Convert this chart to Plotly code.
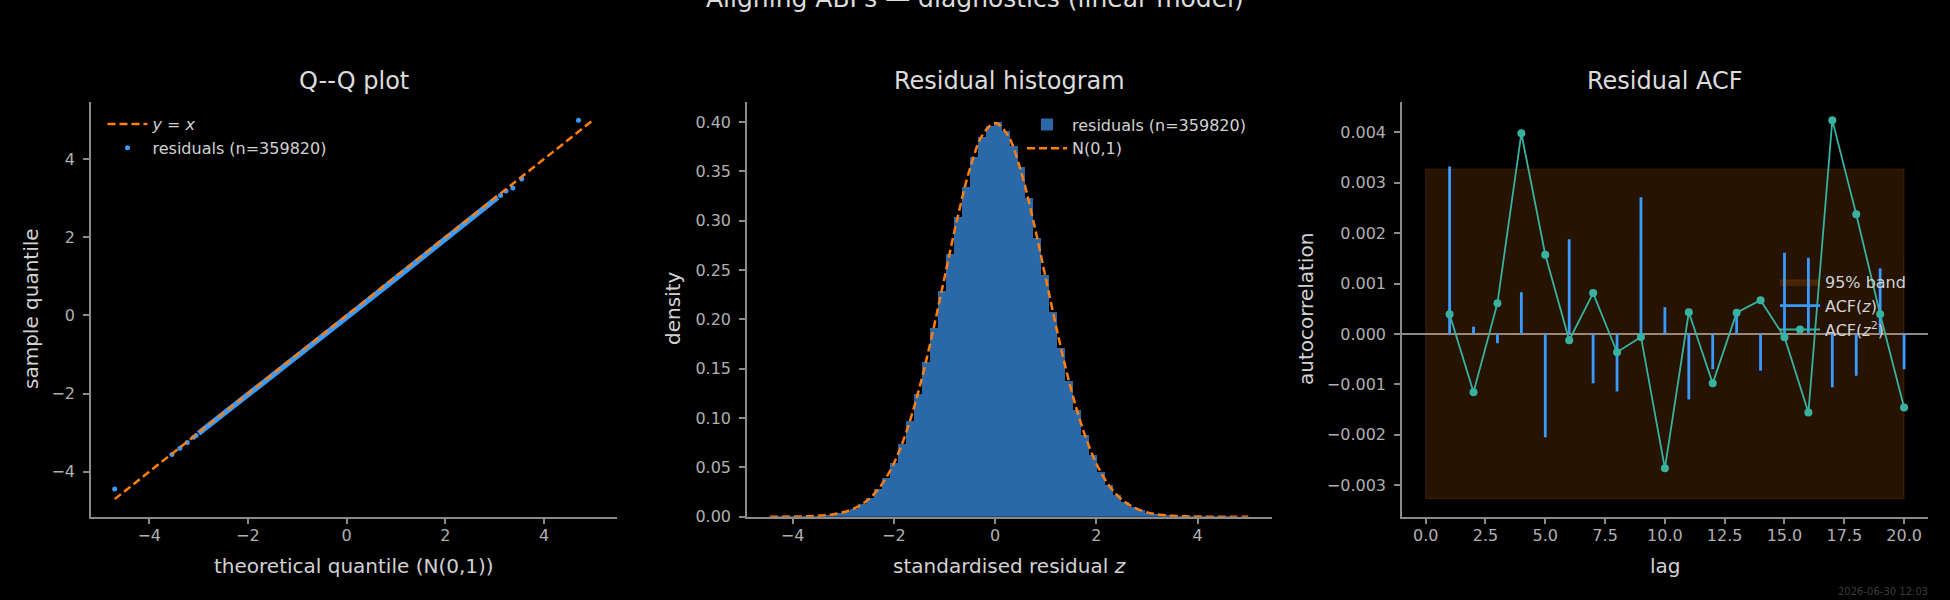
import plotly.graph_objects as go

W, H = 1950, 600
FONT = "DejaVu Sans"

# ---------------- data ----------------
# Q-Q plot: dense central part of sorted residuals vs N(0,1) quantiles
qq_theo = [-3.0, -2.5, -2.0, -1.5, -1.0, -0.5, 0.0, 0.5, 1.0, 1.5, 2.0, 2.5, 3.0, 3.06]
qq_samp = [-3.02, -2.53, -2.04, -1.55, -1.05, -0.55, -0.05, 0.45, 0.95, 1.45, 1.96, 2.47, 2.97, 3.02]
# sparse tails
qq_tail_theo = [-4.70, -3.54, -3.38, -3.23, -3.10, -3.05, 3.12, 3.23, 3.37, 3.55, 4.70]
qq_tail_samp = [-4.44, -3.56, -3.40, -3.25, -3.12, -3.07, 3.07, 3.18, 3.26, 3.49, 4.99]
ref_line = [-4.70, 4.97]

# Histogram (density), 60 equal bins
hist_start = -4.43
hist_width = 0.1572
hist_density = [0.00003, 0.00006, 0.00012, 0.00021, 0.0004, 0.0007, 0.0012, 0.0020, 0.0033, 0.0053,
                0.0083, 0.0127, 0.0190, 0.0277, 0.0392, 0.0544, 0.0735, 0.0969, 0.1246, 0.1564,
                0.1915, 0.2288, 0.2667, 0.3033, 0.3340, 0.3643, 0.3847, 0.3964, 0.4000, 0.3909,
                0.3760, 0.3540, 0.3230, 0.2828, 0.2452, 0.2075, 0.1712, 0.1379, 0.1083, 0.0831,
                0.0621, 0.0453, 0.0323, 0.0224, 0.0152, 0.0100, 0.0065, 0.0041, 0.0025, 0.0015,
                0.0009, 0.0005, 0.0003, 0.00015, 0.00008, 0.00004, 0.00002, 0.00001, 0.000005, 0.000002]

# N(0,1) reference curve
norm_x = [-4.45, -4.25, -4.0, -3.75, -3.5, -3.25, -3.0, -2.75, -2.5, -2.25, -2.0, -1.75, -1.5, -1.25,
          -1.0, -0.75, -0.5, -0.25, 0.0, 0.25, 0.5, 0.75, 1.0, 1.25, 1.5, 1.75, 2.0, 2.25, 2.5, 2.75,
          3.0, 3.25, 3.5, 3.75, 4.0, 4.25, 4.5, 4.75, 5.0]
norm_pdf = [0.00002, 0.00005, 0.00013, 0.00035, 0.00087, 0.00203, 0.00443, 0.00909, 0.01753, 0.03174,
            0.05399, 0.08628, 0.12952, 0.18265, 0.24197, 0.30114, 0.35207, 0.38667, 0.39894, 0.38667,
            0.35207, 0.30114, 0.24197, 0.18265, 0.12952, 0.08628, 0.05399, 0.03174, 0.01753, 0.00909,
            0.00443, 0.00203, 0.00087, 0.00035, 0.00013, 0.00005, 0.000016, 0.000005, 0.0000015]

# ACF
lags = list(range(1, 21))
acf_z = [0.00332, 0.000145, -0.000185, 0.000827, -0.00205, 0.00188, -0.00098, -0.00114, 0.00271, 0.00053,
         -0.00130, -0.00070, 0.00040, -0.00073, 0.00161, 0.00151, -0.00106, -0.00083, 0.00130, -0.00070]
acf_z2 = [0.00039, -0.001157, 0.00061, 0.00398, 0.00157, -0.000126, 0.00081, -0.000364, -0.00006, -0.002665,
          0.00043, -0.00098, 0.00042, 0.00067, -0.000066, -0.00156, 0.00424, 0.002375, 0.00039, -0.00146]
band_half = 0.003268
band_lags = [0, 20]

# ---------------- styling ----------------
SPINE = "#8a8a8a"
TICKC = "#b0b0b0"
LABC = "#d2d2d2"
TITC = "#dcdcdc"
BLUE = "#3a9bff"
HISTBLUE = "#2a68a8"
ORANGE = "#ff7f0e"
TEAL = "#38b2a0"

def px_x(p):
    return p / W

def px_y(p):
    return 1 - p / H

Y0, Y1 = px_y(516.7), px_y(102)
DOM = [(91, 617), (747, 1272), (1402, 1928)]

fig = go.Figure()

# ---- panel 1 ----
fig.add_trace(go.Scatter(x=qq_theo, y=qq_samp, mode="lines", line=dict(color=BLUE, width=5.5),
                         showlegend=False, xaxis="x", yaxis="y", hoverinfo="skip"))
fig.add_trace(go.Scatter(x=qq_tail_theo, y=qq_tail_samp, mode="markers",
                         marker=dict(color=BLUE, size=5), name="residuals (n=359820)",
                         legend="legend", legendrank=2, legendgroup="a2", xaxis="x", yaxis="y"))
fig.add_trace(go.Scatter(x=ref_line, y=ref_line, mode="lines",
                         line=dict(color=ORANGE, width=2.5, dash="8px,4px"),
                         name="<i>y</i> = <i>x</i>", legend="legend", legendrank=1, legendgroup="a1",
                         xaxis="x", yaxis="y"))

# ---- panel 2 ----
hist_x = [hist_start + hist_width * (k + 0.5) for k in range(len(hist_density))]
fig.add_trace(go.Bar(x=hist_x, y=hist_density, width=hist_width, marker=dict(color=HISTBLUE, line=dict(width=0)),
                     name="residuals (n=359820)", legend="legend2", legendgroup="b1",
                     xaxis="x2", yaxis="y2"))
fig.add_trace(go.Scatter(x=norm_x, y=norm_pdf, mode="lines", line=dict(color=ORANGE, width=2.5, dash="8px,4px",
                                                                        shape="spline"),
                         name="N(0,1)", legend="legend2", legendgroup="b2", xaxis="x2", yaxis="y2"))

# ---- panel 3 ----
fig.add_trace(go.Scatter(x=[band_lags[0], band_lags[1], band_lags[1], band_lags[0], band_lags[0]],
                         y=[-band_half, -band_half, band_half, band_half, -band_half],
                         mode="lines", fill="toself", fillcolor="rgba(255,127,14,0.15)",
                         line=dict(color="rgba(255,127,14,0.15)", width=1.2),
                         name="95% band", legend="legend3", legendgroup="c1", xaxis="x3", yaxis="y3"))
vx, vy = [], []
for l, v in zip(lags, acf_z):
    vx += [l, l, None]
    vy += [0, v, None]
fig.add_trace(go.Scatter(x=vx, y=vy, mode="lines", line=dict(color=BLUE, width=2.8),
                         name="ACF(<i>z</i>)", legend="legend3", legendgroup="c2", xaxis="x3", yaxis="y3"))
fig.add_trace(go.Scatter(x=lags, y=acf_z2, mode="lines+markers", line=dict(color=TEAL, width=1.8),
                         marker=dict(color=TEAL, size=8),
                         name="ACF(<i>z</i><sup>2</sup>)", legend="legend3", legendgroup="c3",
                         xaxis="x3", yaxis="y3"))

axis_common = dict(showgrid=False, showline=True, linecolor=SPINE, linewidth=1.5, mirror=False,
                   ticks="outside", ticklen=6, tickwidth=1.5, tickcolor=SPINE,
                   tickfont=dict(family=FONT, size=16, color=TICKC), zeroline=False,
                   automargin=False)
xa = dict(axis_common, ticklabelstandoff=-3)
ya = dict(axis_common, ticklabelstandoff=5)

leg_common = dict(xanchor="left", yanchor="top", bgcolor="rgba(0,0,0,0)", borderwidth=0,
                  font=dict(family=FONT, size=16, color=LABC), traceorder="grouped",
                  tracegroupgap=0, itemwidth=40)

fig.update_layout(
    width=W, height=H, autosize=False, margin=dict(l=0, r=0, t=0, b=0, pad=0, autoexpand=False),
    paper_bgcolor="#000000", plot_bgcolor="#000000",
    bargap=0, showlegend=True,
    xaxis=dict(domain=[px_x(DOM[0][0]), px_x(DOM[0][1])], range=[-5.18, 5.48], tickvals=[-4, -2, 0, 2, 4],
               anchor="y", **xa),
    yaxis=dict(domain=[Y0, Y1], range=[-5.15, 5.46], tickvals=[-4, -2, 0, 2, 4], anchor="x", **ya),
    xaxis2=dict(domain=[px_x(DOM[1][0]), px_x(DOM[1][1])], range=[-4.90, 5.47], tickvals=[-4, -2, 0, 2, 4],
                anchor="y2", **xa),
    yaxis2=dict(domain=[Y0, Y1], range=[0, 0.4203], tickvals=[0, 0.05, 0.1, 0.15, 0.2, 0.25, 0.3, 0.35, 0.4],
                tickformat=".2f", anchor="x2", **ya),
    xaxis3=dict(domain=[px_x(DOM[2][0]), px_x(DOM[2][1])], range=[-0.99, 21.0], tick0=0, dtick=2.5,
                tickformat=".1f", anchor="y3", **xa),
    yaxis3=dict(domain=[Y0, Y1], range=[-0.003625, 0.0046], tick0=0, dtick=0.001, tickformat=".3f",
                anchor="x3", **{**ya, "zeroline": True}, zerolinecolor=SPINE, zerolinewidth=1.5),
    legend=dict(x=px_x(102.5), y=px_y(107), **leg_common),
    legend2=dict(x=px_x(1022), y=px_y(107.5), **leg_common),
    legend3=dict(x=px_x(1775), y=px_y(265), **leg_common),
)

ann = []
# suptitle
ann.append(dict(text="Aligning ABPs — diagnostics (linear model)", x=0.5, y=px_y(15), xref="paper", yref="paper",
                xanchor="center", yanchor="bottom", showarrow=False,
                font=dict(family=FONT, size=25, color=TITC)))
titles = ["Q--Q plot", "Residual histogram", "Residual ACF"]
xlabels = ["theoretical quantile (N(0,1))", "standardised residual <i>z</i>", "lag"]
ylabels = ["sample quantile", "density", "autocorrelation"]
ylab_x = [31, 673, 1306]
for i in range(3):
    cx = (DOM[i][0] + DOM[i][1]) / 2
    ann.append(dict(text=titles[i], x=px_x(cx), y=px_y(97), xref="paper", yref="paper",
                    xanchor="center", yanchor="bottom", showarrow=False,
                    font=dict(family=FONT, size=24, color=TITC)))
    ann.append(dict(text=xlabels[i], x=px_x(cx), y=px_y(579.5), xref="paper", yref="paper",
                    xanchor="center", yanchor="bottom", showarrow=False,
                    font=dict(family=FONT, size=20, color=LABC)))
    ann.append(dict(text=ylabels[i], x=px_x(ylab_x[i]), y=px_y(309), xref="paper", yref="paper",
                    xanchor="center", yanchor="middle", textangle=-90, showarrow=False,
                    font=dict(family=FONT, size=20, color=LABC)))
ann.append(dict(text="2026-06-30 12:03", x=px_x(1930), y=px_y(591), xref="paper", yref="paper",
                xanchor="right", yanchor="middle", showarrow=False,
                font=dict(family=FONT, size=10, color="#3c3c3c")))
fig.update_layout(annotations=ann)

fig.write_html("out.html")
